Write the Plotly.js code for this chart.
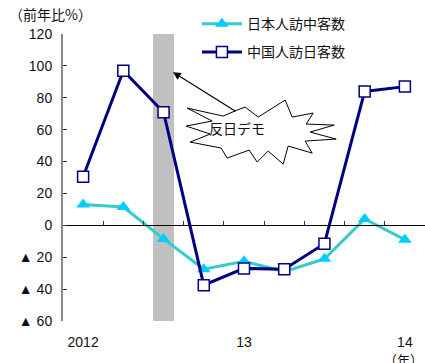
<!DOCTYPE html>
<html>
<head>
<meta charset="utf-8">
<script src="https://cdn.plot.ly/plotly-3.0.1.min.js"></script>
<style>html,body{margin:0;padding:0;background:#fff}#chart{width:425px;height:363px}</style>
</head>
<body>
<div id="chart"></div>
<script>
// quarterly data, 2012 Q1 .. 2014 Q1
var quarters = [0, 1, 2, 3, 4, 5, 6, 7, 8];
var yearTickVals = [0, 4, 8];
var yearTickText = ['2012', '13', '14'];
var boundaries = [0.5, 1.5, 2.5, 3.5, 4.5, 5.5, 6.5, 7.5];
var japanToChina = [13, 11.5, -8.5, -27.5, -22.5, -29, -21, 4, -9];   // 日本人訪中客数
var chinaToJapan = [30.5, 97, 71, -37.5, -27, -27.5, -11.5, 84, 87];   // 中国人訪日客数
var seriesNames = ['日本人訪中客数', '中国人訪日客数'];
var yTickVals = [-60, -40, -20, 0, 20, 40, 60, 80, 100, 120];
var yTickText = ['▲ 60', '▲ 40', '▲ 20', '0', '20', '40', '60', '80', '100', '120'];
var protestQuarter = 2;   // 反日デモ (2012 Q3)

var FONT = 'Liberation Sans, Arial, Noto Sans CJK JP, sans-serif';
var JFONT = 'Noto Sans CJK JP, Liberation Sans, sans-serif';

var traces = [
  {
    x: quarters, y: japanToChina, name: seriesNames[0], type: 'scatter', mode: 'lines+markers',
    legendgroup: 'a',
    line: {color: '#33CCCC', width: 3},
    marker: {symbol: 'triangle-up', size: 12, color: '#00CCFF', line: {width: 0}},
    cliponaxis: false
  },
  {
    x: quarters, y: chinaToJapan, name: seriesNames[1], type: 'scatter', mode: 'lines+markers',
    legendgroup: 'b',
    line: {color: '#000080', width: 3},
    marker: {symbol: 'square', size: 11, color: '#ffffff', line: {color: '#000080', width: 1.5}},
    cliponaxis: false
  },
  { // carrier for the zero-line axis
    x: [quarters[0]], y: [0], xaxis: 'x2', yaxis: 'y', mode: 'markers',
    marker: {opacity: 0}, showlegend: false, hoverinfo: 'skip'
  }
];

var star = 'M 8,21 L 21,11 L 48,28 L 55,11 L 76,15 L 69,4 L 97,3 L 73,-4 L 99,-11 L 68,-13 L 75,-25 L 51,-18 L 46,-36 L 31,-23 L 20,-34 L 12,-22 L -10,-30 L -16,-20 L -47,-14 L -27,-6 L -51,2 L -25,7 L -50,20 L -14,12 L 0,18 Z';

var layout = {
  width: 425, height: 363,
  margin: {l: 63, r: 0, t: 34, b: 42},
  paper_bgcolor: '#ffffff', plot_bgcolor: 'rgba(0,0,0,0)',
  font: {family: FONT, size: 14, color: '#111'},
  showlegend: true,
  legend: {
    x: 0.37, xanchor: 'left', y: 1.09, yanchor: 'top',
    font: {family: JFONT, size: 14, color: '#111'},
    bgcolor: 'rgba(0,0,0,0)', tracegroupgap: 7, itemwidth: 40
  },
  xaxis: {
    range: [-0.5, 8.5], tickvals: yearTickVals, ticktext: yearTickText,
    ticks: '', showline: false, showgrid: false, zeroline: false,
    tickfont: {family: FONT, size: 14, color: '#111'}, ticklabelstandoff: 11,
    fixedrange: true
  },
  xaxis2: {
    overlaying: 'x', matches: 'x', anchor: 'free', position: 1 / 3, side: 'bottom',
    range: [-0.5, 8.5], tickvals: boundaries, ticks: 'inside', ticklen: 4, tickwidth: 1,
    tickcolor: '#333', showticklabels: false, showline: true, linecolor: '#000', linewidth: 1,
    showgrid: false, zeroline: false
  },
  yaxis: {
    range: [-60, 120], tickvals: yTickVals, ticktext: yTickText,
    ticks: 'inside', ticklen: 4, tickwidth: 1, tickcolor: '#333',
    showline: true, linecolor: '#888', linewidth: 2,
    showgrid: false, zeroline: false,
    tickfont: {family: FONT, size: 14, color: '#111'}, ticklabelstandoff: 6
  },
  shapes: [
    {type: 'rect', xref: 'x', yref: 'paper', x0: protestQuarter - 0.26, x1: protestQuarter + 0.26,
     y0: 0, y1: 1, fillcolor: '#C0C0C0', line: {width: 0}, layer: 'between'},
    {type: 'path', xref: 'x', yref: 'y', xsizemode: 'pixel', ysizemode: 'pixel',
     xanchor: 3.83, yanchor: 61, path: star, fillcolor: '#ffffff',
     line: {color: '#000', width: 1}, layer: 'above'}
  ],
  annotations: [
    {xref: 'paper', yref: 'paper', x: -0.155, y: 1.068, xanchor: 'left', yanchor: 'middle',
     text: '（前年比%）', showarrow: false, font: {family: JFONT, size: 14, color: '#111'}},
    {xref: 'paper', yref: 'paper', x: 1.0, y: -0.094, xanchor: 'right', yanchor: 'top',
     text: '（年）', showarrow: false, font: {family: JFONT, size: 13, color: '#111'}},
    {xref: 'x', yref: 'y', x: 2.235, y: 96, ax: 64, ay: 40, text: '', showarrow: true,
     arrowhead: 2, arrowsize: 1.3, arrowwidth: 1.2, arrowcolor: '#000'},
    {xref: 'x', yref: 'y', x: 3.83, y: 61, text: '反日デモ', showarrow: false,
     font: {family: JFONT, size: 14, color: '#111'}}
  ]
};

Plotly.newPlot('chart', traces, layout, {displayModeBar: false, staticPlot: true});
</script>
</body>
</html>
